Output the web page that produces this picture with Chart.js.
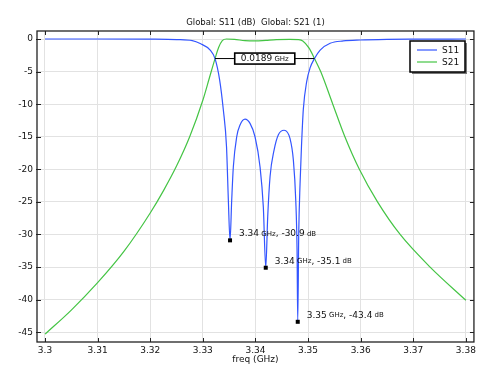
<!DOCTYPE html>
<html lang="en">
<head>
    <meta charset="UTF-8">
    <title>S-parameters</title>
    <style>
        body {
            margin: 0;
            background-color: #fff;
        }
        #chart-box {
            width: 479px;
            height: 366px;
        }
    </style>
    <script src="https://cdn.jsdelivr.net/npm/chart.js"></script>
</head>
<body>
    <div id="chart-box">
        <canvas id="sparam-chart" width="479" height="366"></canvas>
    </div>
    <script>
        const chartTitle = 'Global: S11 (dB)  Global: S21 (1)';

        // S11 (dB) vs freq (GHz)
        const s11Freq = [3.300, 3.310, 3.320, 3.325, 3.328, 3.3295, 3.3314, 3.33232, 3.3332, 3.3339, 3.3345,
            3.33485, 3.33517, 3.33549, 3.33580, 3.33644, 3.33707, 3.33802, 3.33897, 3.33992, 3.34087,
            3.34150, 3.34196, 3.34233, 3.34278, 3.34354, 3.34436, 3.34544, 3.34658, 3.34721, 3.34766,
            3.34791, 3.34804, 3.34823, 3.34848, 3.34875, 3.3491, 3.34975, 3.3504, 3.35122, 3.3523,
            3.3542, 3.3567, 3.3599, 3.365, 3.370, 3.380];
        const s11Db = [0, 0, -0.02, -0.08, -0.25, -0.7, -1.7, -3.0, -6.3, -10.9, -16.5,
            -24.7, -30.9, -24.7, -19.6, -15.0, -13.2, -12.3, -12.95, -15.0, -19.6,
            -25.8, -35.1, -27.3, -21.1, -17.05, -14.7, -14.0, -15.3, -18.6, -24.7,
            -32.4, -43.4, -29.8, -22.2, -16.5, -10.8, -6.5, -4.4, -3.0, -1.7,
            -0.66, -0.3, -0.15, -0.05, -0.02, 0];

        // S21 vs freq (GHz)
        const s21Freq = [3.300, 3.305, 3.310, 3.315, 3.320, 3.3225, 3.325, 3.3275, 3.330, 3.3312,
            3.33232, 3.3330, 3.3337, 3.3345, 3.336, 3.338, 3.340, 3.342, 3.344, 3.3465, 3.3482,
            3.3490, 3.3502, 3.35122, 3.3524, 3.3547, 3.3570, 3.35975, 3.3632, 3.3675, 3.3732, 3.380];
        const s21Db = [-45.3, -41.6, -37.4, -32.6, -26.7, -23.3, -19.5, -15.0, -9.4, -6.1,
            -3.0, -1.3, -0.25, 0, -0.05, -0.25, -0.3, -0.2, -0.1, -0.05, -0.1,
            -0.3, -1.4, -3.0, -5.0, -10.0, -15.0, -20.0, -25.0, -30.0, -35.0, -40.1];

        const xTicks = [3.3, 3.31, 3.32, 3.33, 3.34, 3.35, 3.36, 3.37, 3.38];
        const yTicks = [0, -5, -10, -15, -20, -25, -30, -35, -40, -45];

        const blue = '#3355ff';
        const green = '#44c444';
        const fontFam = '"DejaVu Sans", sans-serif';

        const toPoints = (xs, ys) => xs.map((x, i) => ({ x: x, y: ys[i] }));

        // local minima of S11 -> marker points
        const dips = [];
        for (let i = 1; i < s11Db.length - 1; i++) {
            if (s11Db[i] < s11Db[i - 1] && s11Db[i] < s11Db[i + 1]) dips.push(i);
        }

        // -3 dB crossings of S21
        const crossings = [];
        for (let i = 1; i < s21Db.length; i++) {
            const a = s21Db[i - 1], b = s21Db[i];
            if ((a + 3) * (b + 3) <= 0 && a !== b) {
                const t = (-3 - a) / (b - a);
                const f = s21Freq[i - 1] + t * (s21Freq[i] - s21Freq[i - 1]);
                if (!crossings.some(c => Math.abs(c - f) < 1e-9)) crossings.push(f);
            }
        }

        // text with a smaller unit font, e.g. [['3.34', 9], [' GHz', 7]]
        function drawParts(ctx, parts, x, y) {
            let cx = x;
            parts.forEach(p => {
                ctx.font = p[1] + 'px ' + fontFam;
                ctx.fillText(p[0], cx, y);
                cx += ctx.measureText(p[0]).width;
            });
            return cx - x;
        }
        function partsWidth(ctx, parts) {
            let w = 0;
            parts.forEach(p => {
                ctx.font = p[1] + 'px ' + fontFam;
                w += ctx.measureText(p[0]).width;
            });
            return w;
        }

        const extras = {
            id: 'extras',
            afterDatasetsDraw(chart) {
                const ctx = chart.ctx;
                const xs = chart.scales.x, ys = chart.scales.y;
                const area = chart.chartArea;
                ctx.save();

                // title, centred over the plot
                ctx.fillStyle = '#111';
                ctx.font = '8.5px ' + fontFam;
                ctx.textAlign = 'center';
                ctx.textBaseline = 'middle';
                ctx.fillText(chartTitle, (area.left + area.right) / 2, 23);
                ctx.textAlign = 'left';

                // frame + inward ticks
                ctx.strokeStyle = '#222';
                ctx.lineWidth = 1.3;
                ctx.strokeRect(area.left, area.top, area.right - area.left, area.bottom - area.top);
                ctx.lineWidth = 1;
                ctx.beginPath();
                xs.ticks.forEach(t => {
                    const px = Math.round(xs.getPixelForValue(t.value)) + 0.5;
                    ctx.moveTo(px, area.bottom); ctx.lineTo(px, area.bottom - 4);
                    ctx.moveTo(px, area.top); ctx.lineTo(px, area.top + 4);
                });
                ys.ticks.forEach(t => {
                    const py = Math.round(ys.getPixelForValue(t.value)) + 0.5;
                    ctx.moveTo(area.left - 1, py); ctx.lineTo(area.left + 4, py);
                    ctx.moveTo(area.right, py); ctx.lineTo(area.right - 4, py);
                });
                ctx.stroke();

                // bandwidth annotation
                const y3 = ys.getPixelForValue(-3);
                const xl = xs.getPixelForValue(crossings[0]);
                const xr = xs.getPixelForValue(crossings[crossings.length - 1]);
                ctx.strokeStyle = '#000';
                ctx.lineWidth = 1;
                ctx.beginPath();
                ctx.moveTo(xl, y3); ctx.lineTo(xr, y3);
                ctx.stroke();
                const bwParts = [[(crossings[crossings.length - 1] - crossings[0]).toFixed(4), 9], [' GHz', 7]];
                const bw = partsWidth(ctx, bwParts);
                const cx = (xl + xr) / 2;
                const boxW = bw + 12, boxH = 11;
                ctx.fillStyle = '#fff';
                ctx.fillRect(cx - boxW / 2, y3 - boxH / 2, boxW, boxH);
                ctx.lineWidth = 1.6;
                ctx.strokeRect(cx - boxW / 2, y3 - boxH / 2, boxW, boxH);
                ctx.fillStyle = '#111';
                ctx.textBaseline = 'middle';
                drawParts(ctx, bwParts, cx - bw / 2, y3 + 0.5);

                // dip markers
                dips.forEach(i => {
                    const px = xs.getPixelForValue(s11Freq[i]);
                    const py = ys.getPixelForValue(s11Db[i]);
                    ctx.fillStyle = '#000';
                    ctx.fillRect(px - 2, py - 2, 4, 4);
                    ctx.fillStyle = '#111';
                    drawParts(ctx, [[s11Freq[i].toFixed(2), 9], [' GHz', 7], [', ' + s11Db[i].toFixed(1), 9], [' dB', 7]],
                        px + 9, py - 6.5);
                });

                // legend
                const lx = 410, ly = 41, lw = 55, lh = 31;
                ctx.fillStyle = '#777';
                ctx.fillRect(lx + 2, ly + 2, lw, lh);
                ctx.fillStyle = '#fff';
                ctx.fillRect(lx, ly, lw, lh);
                ctx.strokeStyle = '#000';
                ctx.lineWidth = 1.5;
                ctx.strokeRect(lx, ly, lw, lh);
                chart.data.datasets.forEach((ds, k) => {
                    const yy = ly + 9 + k * 12;
                    ctx.strokeStyle = ds.borderColor;
                    ctx.lineWidth = 1.2;
                    ctx.beginPath();
                    ctx.moveTo(lx + 7, yy); ctx.lineTo(lx + 27, yy);
                    ctx.stroke();
                    ctx.fillStyle = '#111';
                    ctx.font = '9px ' + fontFam;
                    ctx.fillText(ds.label, lx + 32, yy + 0.5);
                });
                ctx.restore();
            }
        };

        const ctx = document.getElementById('sparam-chart').getContext('2d');
        const chart = new Chart(ctx, {
            type: 'line',
            data: {
                datasets: [
                    {
                        label: 'S11',
                        data: toPoints(s11Freq, s11Db),
                        borderColor: blue,
                        borderWidth: 1.2,
                        pointRadius: 0,
                        cubicInterpolationMode: 'monotone'
                    },
                    {
                        label: 'S21',
                        data: toPoints(s21Freq, s21Db),
                        borderColor: green,
                        borderWidth: 1.2,
                        pointRadius: 0,
                        cubicInterpolationMode: 'monotone'
                    }
                ]
            },
            options: {
                responsive: false,
                animation: false,
                layout: { padding: { left: 0, right: 5, top: 31, bottom: 0 } },
                plugins: {
                    legend: { display: false },
                    tooltip: { enabled: false },
                    title: { display: false }
                },
                scales: {
                    x: {
                        type: 'linear',
                        min: 3.29848,
                        max: 3.38153,
                        afterBuildTicks: s => { s.ticks = xTicks.map(v => ({ value: v })); },
                        ticks: {
                            color: '#111',
                            font: { size: 9, family: fontFam },
                            padding: 3,
                            maxRotation: 0,
                            autoSkip: false,
                            callback: v => String(Number(v.toFixed(2)))
                        },
                        grid: { color: '#e2e2e2', drawTicks: false },
                        border: { display: false },
                        title: {
                            display: true,
                            text: 'freq (GHz)',
                            color: '#111',
                            font: { size: 9, family: fontFam },
                            padding: { top: 0, bottom: 1 }
                        },
                        afterFit: s => { s.height = 24; }
                    },
                    y: {
                        min: -46.5,
                        max: 1.23,
                        afterBuildTicks: s => { s.ticks = yTicks.map(v => ({ value: v })); },
                        ticks: {
                            color: '#111',
                            font: { size: 9, family: fontFam },
                            padding: 4,
                            autoSkip: false,
                            callback: v => String(v)
                        },
                        grid: { color: '#e2e2e2', drawTicks: false },
                        border: { display: false },
                        afterFit: s => { s.width = 37; }
                    }
                }
            },
            plugins: [extras]
        });
    </script>
</body>
</html>
